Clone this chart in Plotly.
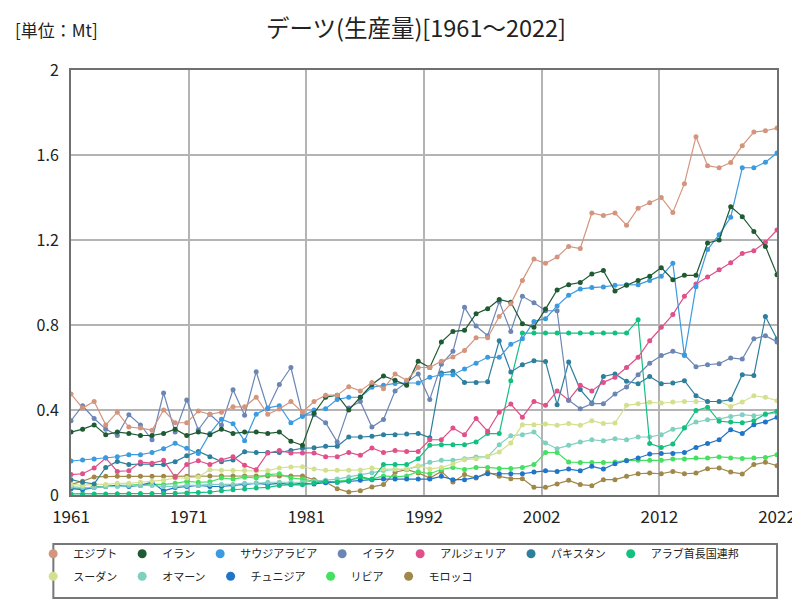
import numpy as np
import plotly.graph_objects as go

years = list(range(1961, 2023))

egypt = [0.475, 0.41, 0.44, 0.33, 0.39, 0.32, 0.315, 0.305, 0.40, 0.34,
         0.34, 0.395, 0.38, 0.39, 0.415, 0.415, 0.46, 0.38, 0.405, 0.44,
         0.39, 0.44, 0.47, 0.47, 0.51, 0.49, 0.53, 0.50, 0.57, 0.54,
         0.60, 0.60, 0.63, 0.65, 0.68, 0.74, 0.74, 0.84, 0.90, 1.01,
         1.11, 1.09, 1.12, 1.17, 1.16, 1.327, 1.315, 1.327, 1.27, 1.35,
         1.375, 1.40, 1.33, 1.465, 1.686, 1.55, 1.54, 1.565, 1.644, 1.708,
         1.714, 1.727]
iran = [0.296, 0.31, 0.33, 0.284, 0.296, 0.29, 0.28, 0.28, 0.29, 0.31,
        0.28, 0.296, 0.284, 0.31, 0.29, 0.296, 0.296, 0.29, 0.296, 0.253,
        0.234, 0.385, 0.46, 0.47, 0.40, 0.46, 0.52, 0.56, 0.54, 0.516,
        0.63, 0.60, 0.72, 0.77, 0.775, 0.853, 0.877, 0.92, 0.907, 0.806,
        0.79, 0.875, 0.965, 0.99, 1.0, 1.04, 1.056, 0.96, 0.987, 1.01,
        1.03, 1.07, 1.013, 1.034, 1.034, 1.186, 1.20, 1.357, 1.31, 1.24,
        1.17, 1.037]
saudi = [0.16, 0.165, 0.17, 0.175, 0.18, 0.19, 0.19, 0.20, 0.218, 0.243,
         0.22, 0.195, 0.29, 0.357, 0.335, 0.255, 0.38, 0.41, 0.42, 0.34,
         0.37, 0.40, 0.406, 0.45, 0.46, 0.46, 0.507, 0.516, 0.525, 0.527,
         0.527, 0.554, 0.566, 0.566, 0.593, 0.62, 0.648, 0.648, 0.71, 0.735,
         0.817, 0.83, 0.89, 0.94, 0.97, 0.976, 0.979, 0.987, 0.99, 0.99,
         1.01, 1.03, 1.09, 0.656, 0.98, 1.155, 1.225, 1.307, 1.54, 1.54,
         1.566, 1.61]
iraq = [0.35, 0.42, 0.36, 0.31, 0.28, 0.378, 0.33, 0.26, 0.48, 0.296,
        0.447, 0.307, 0.38, 0.33, 0.495, 0.375, 0.58, 0.406, 0.52, 0.60,
        0.375, 0.378, 0.34, 0.25, 0.41, 0.44, 0.32, 0.355, 0.49, 0.53,
        0.57, 0.45, 0.615, 0.676, 0.883, 0.795, 0.75, 0.91, 0.77, 0.935,
        0.905, 0.867, 0.867, 0.446, 0.406, 0.43, 0.43, 0.475, 0.508, 0.566,
        0.62, 0.656, 0.676, 0.66, 0.604, 0.613, 0.618, 0.645, 0.64, 0.735,
        0.75, 0.72]
algeria = [0.096, 0.10, 0.127, 0.174, 0.111, 0.114, 0.155, 0.15, 0.163, 0.083,
           0.143, 0.161, 0.143, 0.165, 0.18, 0.14, 0.119, 0.198, 0.209, 0.198,
           0.198, 0.198, 0.18, 0.18, 0.20, 0.187, 0.221, 0.20, 0.209, 0.205,
           0.205, 0.26, 0.26, 0.315, 0.284, 0.36, 0.30, 0.39, 0.428, 0.366,
           0.44, 0.422, 0.49, 0.446, 0.516, 0.49, 0.53, 0.554, 0.60, 0.648,
           0.726, 0.789, 0.849, 0.935, 0.993, 1.026, 1.06, 1.093, 1.136, 1.15,
           1.19, 1.247]
pakistan = [0.072, 0.06, 0.052, 0.13, 0.158, 0.143, 0.146, 0.143, 0.143, 0.157,
            0.185, 0.205, 0.18, 0.157, 0.165, 0.204, 0.20, 0.20, 0.20, 0.21,
            0.22, 0.222, 0.229, 0.229, 0.273, 0.273, 0.276, 0.284, 0.284, 0.287,
            0.29, 0.27, 0.574, 0.582, 0.53, 0.53, 0.533, 0.726, 0.579, 0.613,
            0.632, 0.628, 0.425, 0.626, 0.496, 0.433, 0.558, 0.57, 0.535, 0.524,
            0.558, 0.524, 0.527, 0.538, 0.467, 0.44, 0.44, 0.449, 0.566, 0.562,
            0.84, 0.734]
uae = [0.005, 0.005, 0.005, 0.005, 0.006, 0.006, 0.007, 0.007, 0.008, 0.008,
       0.01, 0.012, 0.014, 0.02, 0.025, 0.028, 0.033, 0.036, 0.045, 0.049,
       0.048, 0.056, 0.065, 0.06, 0.067, 0.088, 0.072, 0.143, 0.143, 0.143,
       0.171, 0.234, 0.237, 0.237, 0.237, 0.25, 0.289, 0.289, 0.538, 0.762,
       0.762, 0.762, 0.762, 0.762, 0.762, 0.762, 0.762, 0.762, 0.762, 0.825,
       0.242, 0.224, 0.24, 0.315, 0.398, 0.413, 0.347, 0.343, 0.34, 0.35,
       0.381, 0.394]
sudan = [0.05, 0.045, 0.05, 0.05, 0.055, 0.055, 0.06, 0.065, 0.07, 0.08,
         0.08, 0.085, 0.119, 0.117, 0.115, 0.115, 0.113, 0.115, 0.127, 0.132,
         0.133, 0.122, 0.116, 0.116, 0.116, 0.118, 0.127, 0.122, 0.122, 0.122,
         0.138, 0.122, 0.13, 0.146, 0.166, 0.171, 0.182, 0.202, 0.245, 0.331,
         0.331, 0.334, 0.328, 0.336, 0.328, 0.35, 0.336, 0.339, 0.422, 0.43,
         0.436, 0.433, 0.438, 0.44, 0.44, 0.44, 0.44, 0.417, 0.438, 0.467,
         0.46, 0.444]
oman = [0.04, 0.035, 0.035, 0.04, 0.04, 0.045, 0.045, 0.045, 0.04, 0.04,
        0.045, 0.045, 0.05, 0.05, 0.05, 0.055, 0.055, 0.06, 0.06, 0.06,
        0.06, 0.065, 0.07, 0.075, 0.085, 0.095, 0.105, 0.115, 0.12, 0.12,
        0.135, 0.154, 0.163, 0.163, 0.171, 0.179, 0.18, 0.237, 0.279, 0.284,
        0.296, 0.245, 0.218, 0.234, 0.249, 0.26, 0.255, 0.265, 0.26, 0.273,
        0.273, 0.284, 0.31, 0.318, 0.343, 0.354, 0.357, 0.37, 0.378, 0.373,
        0.378, 0.386]
tunisia = [0.03, 0.025, 0.035, 0.04, 0.045, 0.04, 0.045, 0.06, 0.02, 0.035,
           0.04, 0.045, 0.04, 0.04, 0.045, 0.05, 0.055, 0.05, 0.055, 0.05,
           0.055, 0.052, 0.058, 0.06, 0.065, 0.07, 0.072, 0.075, 0.075, 0.075,
           0.075, 0.075, 0.088, 0.072, 0.072, 0.083, 0.10, 0.10, 0.10, 0.10,
           0.108, 0.114, 0.111, 0.122, 0.114, 0.135, 0.122, 0.147, 0.161, 0.174,
           0.193, 0.195, 0.195, 0.20, 0.224, 0.242, 0.26, 0.307, 0.289, 0.331,
           0.344, 0.366]
libya = [0.035, 0.03, 0.04, 0.04, 0.045, 0.045, 0.05, 0.05, 0.05, 0.055,
         0.064, 0.06, 0.062, 0.08, 0.075, 0.084, 0.08, 0.096, 0.1, 0.08,
         0.075, 0.065, 0.06, 0.065, 0.07, 0.08, 0.075, 0.09, 0.085, 0.09,
         0.11, 0.1, 0.12, 0.13, 0.12, 0.13, 0.13, 0.125, 0.125, 0.13,
         0.143, 0.2, 0.2, 0.155, 0.153, 0.153, 0.153, 0.155, 0.163, 0.163,
         0.163, 0.163, 0.169, 0.17, 0.174, 0.174, 0.179, 0.174, 0.172, 0.174,
         0.177, 0.19]
morocco = [0.05, 0.065, 0.085, 0.088, 0.088, 0.088, 0.088, 0.088, 0.088, 0.088,
           0.088, 0.09, 0.09, 0.09, 0.09, 0.09, 0.09, 0.09, 0.09, 0.09,
           0.09, 0.072, 0.061, 0.03, 0.014, 0.02, 0.038, 0.049, 0.107, 0.119,
           0.104, 0.08, 0.111, 0.061, 0.096, 0.08, 0.108, 0.088, 0.077, 0.077,
           0.036, 0.036, 0.052, 0.069, 0.049, 0.044, 0.072, 0.072, 0.088, 0.10,
           0.103, 0.10, 0.111, 0.10, 0.103, 0.124, 0.127, 0.108, 0.099, 0.143,
           0.154, 0.138]

names = ["エジプト", "イラン", "サウジアラビア", "イラク", "アルジェリア", "パキスタン",
         "アラブ首長国連邦", "スーダン", "オマーン", "チュニジア", "リビア", "モロッコ"]
series = [egypt, iran, saudi, iraq, algeria, pakistan, uae, sudan, oman, tunisia, libya, morocco]
colors = ["#d4957e", "#1e5a32", "#3a9be0", "#6b86b5", "#e0508a", "#2e7f9e",
          "#14c080", "#d3e08e", "#80d0c0", "#2075c8", "#45e060", "#a08848"]

tick_labels = ["1961", "1971", "1981", "1992", "2002", "2012", "2022"]
tick_positions = np.linspace(1961, 2022, len(tick_labels))

FONT = "Noto Sans CJK JP"
ROW1 = 7

fig = go.Figure()
for name, vals, col in reversed(list(zip(names, series, colors))):
    fig.add_trace(go.Scatter(
        x=years, y=vals, mode="lines+markers", name=name,
        line=dict(color=col, width=1.2),
        marker=dict(color=col, size=5),
        showlegend=False, hoverinfo="x+y+name"))
for i, (name, col) in enumerate(zip(names, colors)):
    fig.add_trace(go.Scatter(
        x=[None], y=[None], mode="markers", name=name,
        marker=dict(color=col, size=9), showlegend=True,
        legend="legend" if i < ROW1 else "legend2"))

leg_common = dict(orientation="h", xanchor="left", yanchor="top",
                  borderwidth=0, bgcolor="rgba(0,0,0,0)",
                  font=dict(size=11, color="#222"), itemwidth=30)

fig.update_layout(
    width=800, height=600,
    margin=dict(l=63, r=28, t=62, b=113),
    paper_bgcolor="white", plot_bgcolor="white",
    font=dict(family=FONT, color="#222"),
    title=dict(text="デーツ(生産量)[1961～2022]", x=0.51, xanchor="center",
               y=0.966, yanchor="middle", font=dict(size=23.5, color="#222")),
    showlegend=True,
    legend=dict(x=-0.0536, y=-0.104, **leg_common),
    legend2=dict(x=-0.0536, y=-0.157, **leg_common),
    annotations=[dict(text="[単位：Mt]", xref="paper", yref="paper",
                      x=-0.082, y=1.095, xanchor="left", yanchor="middle",
                      showarrow=False, font=dict(size=17, color="#222"))],
)
# legend frame
fig.add_shape(type="rect", xref="paper", yref="paper",
              x0=-0.025, x1=1.0, y0=-0.2424, y1=-0.1153,
              line=dict(color="#777777", width=2), layer="below")

fig.update_xaxes(range=[1961, 2022], tickvals=tick_positions, ticktext=tick_labels,
                 showgrid=True, gridcolor="#b4b4b4", gridwidth=1.5,
                 showline=True, linecolor="#707070", linewidth=2, mirror=True,
                 ticks="", ticklabelstandoff=6,
                 tickfont=dict(size=17, color="#222"), zeroline=False)
fig.update_yaxes(range=[0, 2], dtick=0.4, tick0=0,
                 showgrid=True, gridcolor="#b4b4b4", gridwidth=1.5,
                 showline=True, linecolor="#707070", linewidth=2, mirror=True,
                 ticks="", ticklabelstandoff=7,
                 tickfont=dict(size=16, color="#222"), zeroline=False)

fig.write_html("out.html")
